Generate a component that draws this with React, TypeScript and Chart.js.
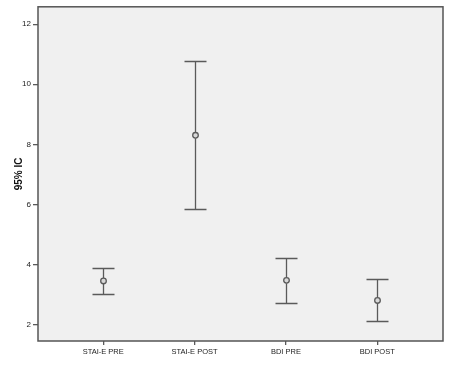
import React, { useEffect, useRef } from "react";
import { Chart, registerables } from "chart.js";

Chart.register(...registerables);

const categories = ["STAI-E PRE", "STAI-E POST", "BDI PRE", "BDI POST"];
const means = [3.45, 8.3, 3.47, 2.8];
const lowers = [3.0, 5.83, 2.71, 2.1];
const uppers = [3.87, 10.77, 4.23, 3.53];
const yTicks = [2, 4, 6, 8, 10, 12];

const LINE = "#5a5a5a";

const errorBarPlugin = {
  id: "errorBars",
  beforeDraw(chart: any) {
    const { ctx, chartArea } = chart;
    ctx.save();
    ctx.fillStyle = "#f0f0f0";
    ctx.fillRect(chartArea.left, chartArea.top, chartArea.right - chartArea.left, chartArea.bottom - chartArea.top);
    ctx.restore();
  },
  afterDatasetsDraw(chart: any) {
    const { ctx, chartArea, scales } = chart;
    const xs = scales.x;
    const ys = scales.y;
    ctx.save();
    ctx.strokeStyle = LINE;
    ctx.lineWidth = 1.3;
    categories.forEach((_, i) => {
      const x = Math.round(xs.getPixelForValue(i)) + 0.5;
      const yl = Math.round(ys.getPixelForValue(lowers[i])) + 0.5;
      const yu = Math.round(ys.getPixelForValue(uppers[i])) + 0.5;
      const ym = ys.getPixelForValue(means[i]);
      ctx.beginPath();
      ctx.moveTo(x, yu);
      ctx.lineTo(x, ym - 3);
      ctx.moveTo(x, ym + 3);
      ctx.lineTo(x, yl);
      ctx.moveTo(x - 11, yu);
      ctx.lineTo(x + 11, yu);
      ctx.moveTo(x - 11, yl);
      ctx.lineTo(x + 11, yl);
      ctx.stroke();
      ctx.beginPath();
      ctx.arc(x, ym, 2.8, 0, Math.PI * 2);
      ctx.fillStyle = "#d8d8d8";
      ctx.fill();
      ctx.stroke();
    });
    ctx.strokeStyle = "#555555";
    ctx.lineWidth = 1.5;
    ctx.strokeRect(chartArea.left, chartArea.top, chartArea.right - chartArea.left, chartArea.bottom - chartArea.top);
    ctx.restore();
  },
};

export default function App() {
  const ref = useRef<HTMLCanvasElement>(null);
  useEffect(() => {
    document.body.style.margin = "0";
    const canvas = ref.current!;
    const font = { family: "'Liberation Sans', Arial, sans-serif", size: 7.5 };
    const chart = new Chart(canvas, {
      type: "scatter",
      data: {
        datasets: [
          {
            data: means.map((m, i) => ({ x: i, y: m })),
            pointRadius: 0,
            showLine: false,
          },
        ],
      },
      options: {
        animation: false,
        responsive: false,
        maintainAspectRatio: false,
        layout: { padding: { top: 3, right: 13, left: 0, bottom: 0 } },
        plugins: { legend: { display: false }, tooltip: { enabled: false } },
        scales: {
          x: {
            type: "linear",
            min: -0.714,
            max: 3.72,
            afterBuildTicks: (s: any) => {
              s.ticks = categories.map((_, i) => ({ value: i }));
            },
            afterFit: (s: any) => {
              s.height = 24;
            },
            ticks: {
              font,
              color: "#222",
              padding: 2,
              maxRotation: 0,
              autoSkip: false,
              callback: (v: any) => categories[v] ?? "",
            },
            grid: { display: true, drawOnChartArea: false, tickLength: 4, color: LINE, lineWidth: 1.3 },
            border: { display: false },
          },
          y: {
            type: "linear",
            min: 1.45,
            max: 12.58,
            afterBuildTicks: (s: any) => {
              s.ticks = yTicks.map((v) => ({ value: v }));
            },
            afterFit: (s: any) => {
              s.width = 38;
            },
            ticks: { font: { ...font, size: 8 }, color: "#222", padding: 2 },
            grid: { display: true, drawOnChartArea: false, tickLength: 5, color: LINE, lineWidth: 1.3 },
            border: { display: false },
            title: {
              display: true,
              text: "95% IC",
              font: { family: "'Liberation Sans', Arial, sans-serif", size: 10, weight: "bold" },
              color: "#111",
              padding: { top: 13, bottom: 0 },
            },
          },
        },
      },
      plugins: [errorBarPlugin],
    } as any);
    return () => chart.destroy();
  }, []);
  return <canvas ref={ref} width={456} height={365} style={{ display: "block" }} />;
}
